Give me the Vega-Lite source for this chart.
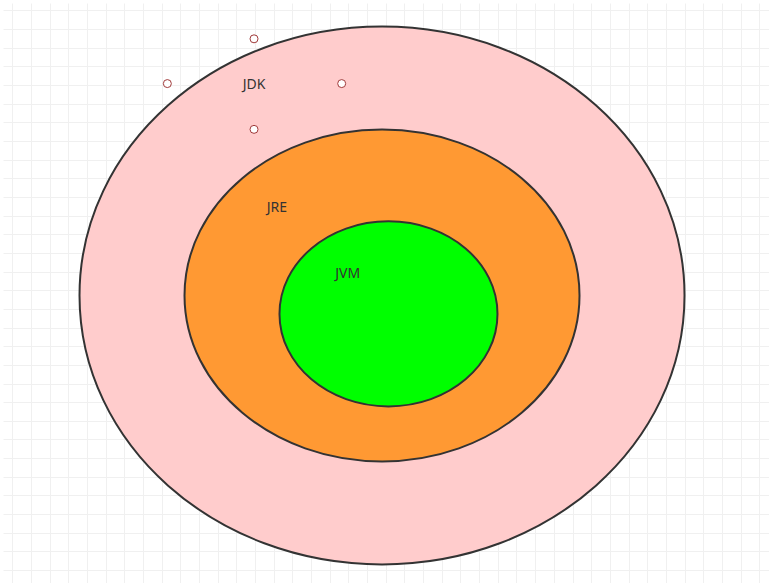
{
  "$schema": "https://vega.github.io/schema/vega-lite/v6.json",
  "autosize": {"type": "fit", "contains": "padding"},
  "width": 769,
  "height": 583,
  "padding": 0,
  "background": "white",
  "config": {"view": {"stroke": null}},
  "datasets": {
    "rings": [
      {"name": "JDK", "cx": 380.5, "cy": 294, "w": 605},
      {"name": "JRE", "cx": 380.5, "cy": 294, "w": 395},
      {"name": "JVM", "cx": 387, "cy": 312.5, "w": 218}
    ],
    "labels": [
      {"text": "JDK", "x": 252, "y": 82},
      {"text": "JRE", "x": 275, "y": 206},
      {"text": "JVM", "x": 346, "y": 272}
    ],
    "handles": [
      {"x": 252, "y": 36}, {"x": 165, "y": 81}, {"x": 340, "y": 81}, {"x": 252, "y": 127}
    ]
  },
  "resolve": {"axis": {"x": "independent", "y": "independent"}},
  "layer": [
    {
      "data": {"values": [{"x": 0, "y": 0}]},
      "mark": {"type": "point", "opacity": 0},
      "encoding": {
        "x": {"field": "x", "type": "quantitative", "scale": {"domain": [0, 769], "nice": false, "zero": false},
          "axis": {"title": null, "labels": false, "ticks": false, "domain": false, "gridColor": "#f0f0f0", "gridWidth": 1,
            "values": [9.25, 28, 46.75, 65.5, 84.25, 103, 121.75, 140.5, 159.25, 178, 196.75, 215.5, 234.25, 253, 271.75, 290.5, 309.25, 328, 346.75, 365.5, 384.25, 403, 421.75, 440.5, 459.25, 478, 496.75, 515.5, 534.25, 553, 571.75, 590.5, 609.25, 628, 646.75, 665.5, 684.25, 703, 721.75, 740.5, 759.25]}},
        "y": {"field": "y", "type": "quantitative", "scale": {"domain": [583, 0], "nice": false, "zero": false},
          "axis": {"title": null, "labels": false, "ticks": false, "domain": false, "gridColor": "#f0f0f0", "gridWidth": 1,
            "values": [7.5, 26.25, 45, 63.75, 82.5, 101.25, 120, 138.75, 157.5, 176.25, 195, 213.75, 232.5, 251.25, 270, 288.75, 307.5, 326.25, 345, 363.75, 382.5, 401.25, 420, 438.75, 457.5, 476.25, 495, 513.75, 532.5, 551.25, 570]}}
      }
    },
    {
      "data": {"values": [{"x": 0, "y": 0}]},
      "mark": {"type": "point", "opacity": 0},
      "encoding": {
        "x": {"field": "x", "type": "quantitative",
          "axis": {"title": null, "labels": false, "ticks": false, "domain": false, "gridColor": "#e2e2e2", "gridWidth": 1.2,
            "values": [28, 103, 178, 253, 328, 403, 478, 553, 628, 703]}},
        "y": {"field": "y", "type": "quantitative",
          "axis": {"title": null, "labels": false, "ticks": false, "domain": false, "gridColor": "#e2e2e2", "gridWidth": 1.2,
            "values": [45, 120, 195, 270, 345, 420, 495, 570]}}
      }
    },
    {
      "data": {"name": "rings"},
      "mark": {"type": "point", "filled": true, "opacity": 1, "stroke": "#333333", "strokeWidth": 2},
      "encoding": {
        "x": {"field": "cx", "type": "quantitative", "axis": null},
        "y": {"field": "cy", "type": "quantitative", "axis": null},
        "size": {"field": "w", "type": "quantitative", "legend": null,
          "scale": {"type": "pow", "exponent": 2, "domain": [0, 769], "range": [0, 591361]}},
        "shape": {"field": "name", "type": "nominal", "legend": null,
          "scale": {"domain": ["JDK", "JRE", "JVM"], "range": [
            "M -1 0 A 1 0.889 0 1 0 1 0 A 1 0.889 0 1 0 -1 0 Z",
            "M -1 0 A 1 0.84 0 1 0 1 0 A 1 0.84 0 1 0 -1 0 Z",
            "M -1 0 A 1 0.849 0 1 0 1 0 A 1 0.849 0 1 0 -1 0 Z"]}},
        "fill": {"field": "name", "type": "nominal", "legend": null,
          "scale": {"domain": ["JDK", "JRE", "JVM"], "range": ["#ffcccc", "#ff9933", "#00ff00"]}},
        "order": {"field": "w", "sort": "descending"}
      }
    },
    {
      "data": {"name": "labels"},
      "mark": {"type": "text", "font": "Noto Sans", "fontSize": 14, "color": "#333333"},
      "encoding": {
        "x": {"field": "x", "type": "quantitative", "axis": null},
        "y": {"field": "y", "type": "quantitative", "axis": null},
        "text": {"field": "text"}
      }
    },
    {
      "data": {"name": "handles"},
      "mark": {"type": "point", "shape": "circle", "size": 64, "fill": "white", "filled": true, "opacity": 1, "stroke": "#a03a3a", "strokeWidth": 1},
      "encoding": {
        "x": {"field": "x", "type": "quantitative", "axis": null},
        "y": {"field": "y", "type": "quantitative", "axis": null}
      }
    }
  ]
}
